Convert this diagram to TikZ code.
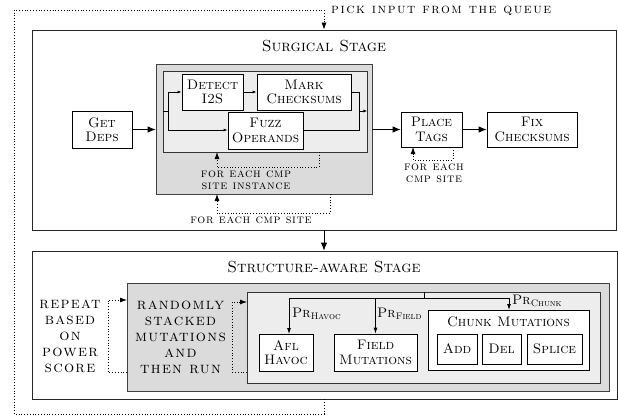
\documentclass[tikz,border=0pt]{standalone}
\usetikzlibrary{arrows.meta}
\font\lmscPick="[lmromancaps10-regular.otf]:letterspace=11" at 14pt
\font\lmscLoop="[lmromancaps10-regular.otf]:letterspace=5" at 12.5pt
\font\lmscBig="[lmromancaps10-regular.otf]:letterspace=8" at 16pt
\newcommand\fsBox{\fontsize{13.8}{14.5}\selectfont\scshape}
\newcommand\fsTitle{\fontsize{16}{18}\selectfont\scshape}
\newcommand\fsSub{\fontsize{9.5}{10}\selectfont\scshape}
\tikzset{
  stage/.style={draw=black!85, line width=0.8pt},
  darkbox/.style={draw=black!75, fill=gray!28, line width=0.8pt},
  lightbox/.style={draw=black!80, fill=gray!14, line width=0.8pt},
  box/.style={draw, fill=white, line width=0.8pt, align=center, inner sep=0pt, font=\fsBox},
  txt/.style={inner sep=0pt, align=center},
  looptxt/.style={inner sep=0pt, font=\lmscLoop},
  bigtxt/.style={inner sep=0pt, align=center, font={\lmscBig\baselineskip=16pt}},
  bigarr/.style={-{Latex[length=8pt,width=6.5pt]}, line width=0.8pt},
  smallarr/.style={-{Latex[length=4pt,width=3pt]}, line width=0.8pt},
  medarr/.style={-{Latex[length=6pt,width=4pt]}, line width=0.8pt},
  looparr/.style={dotted, line width=0.8pt, -{Latex[length=7pt,width=5pt]}},
}
\begin{document}
\begin{tikzpicture}[x=1pt, y=-1pt]
\useasboundingbox (0,0) rectangle (618,417);

% ---------- Surgical stage ----------
\node[stage, minimum width=584pt, minimum height=200pt, inner sep=0pt] (surg) at (324,130) {};
\node[txt, font=\fsTitle] (surgt) at (324,46.5) {Surgical Stage};

\node[darkbox, minimum width=216pt, minimum height=130pt, inner sep=0pt] (gray1) at (264,129) {};
\node[lightbox, minimum width=204pt, minimum height=81pt, inner sep=0pt] (inner1) at (265,111.5) {};

\node[box, minimum width=60pt, minimum height=37pt] (getdeps) at (102,129.5) {Get\\Deps};
\node[box, minimum width=61pt, minimum height=36pt] (detect) at (212.5,92) {Detect\\I2S};
\node[box, minimum width=94pt, minimum height=36pt] (mark) at (304,92) {Mark\\Checksums};
\node[box, minimum width=75pt, minimum height=37pt] (fuzz) at (265.5,130.5) {Fuzz\\Operands};
\node[box, minimum width=61pt, minimum height=35pt] (place) at (431.5,129.5) {Place\\Tags};
\node[box, minimum width=90pt, minimum height=35pt] (fix) at (532,129.5) {Fix\\Checksums};

\draw[bigarr] (getdeps.east) -- (getdeps.east -| gray1.west);
\coordinate (in1) at (163,111);
\coordinate (sp1) at (168,111);
\draw[line width=0.8pt] (in1) -- (sp1);
\draw[smallarr] (sp1) |- (detect.west);
\draw[smallarr] (sp1) |- (fuzz.west |- 0,130);
\draw[smallarr] (detect.east) -- (mark.west);
\coordinate (mg) at (359,111);
\draw[line width=0.8pt] (mark.east) -| (359,130) -- (fuzz.east |- 0,130);
\draw[smallarr] (mg) -- (inner1.east |- mg);
\draw[bigarr] (gray1.east |- place.west) -- (place.west);
\draw[bigarr] (place.east) -- (fix.west);

% loops in surgical stage
\draw[looparr] (453,147) -- (453,160) -- (413,160) -- (413,147);
\node[looptxt] (lp1a) at (434,167) {for each};
\node[looptxt] (lp1b) at (434,179) {cmp site};
\draw[looparr] (319,152) -- (319,167) -- (217,167) -- (217,152);
\node[looptxt] (lp2a) at (246,174) {for each cmp};
\node[looptxt] (lp2b) at (246,186) {site instance};
\draw[looparr] (330,194) -- (330,213) -- (217,213) -- (217,194);
\node[looptxt] (lp3) at (251,220) {for each cmp site};

% ---------- Structure-aware stage ----------
\node[stage, minimum width=585pt, minimum height=148pt, inner sep=0pt] (struct) at (324.5,325) {};
\node[txt, font=\fsTitle] (structt) at (324,267.5) {Structure-aware Stage};
\draw[bigarr] (surg.south -| 324,0) -- (struct.north -| 324,0);

\node[darkbox, minimum width=482pt, minimum height=108pt, inner sep=0pt] (gray2) at (368,337) {};
\node[lightbox, minimum width=353pt, minimum height=91pt, inner sep=0pt] (inner2) at (423.5,337.5) {};

\node[bigtxt] (rep) at (70,336.5) {repeat\\based\\on\\power\\score};
\node[bigtxt] (rand) at (180.5,337.5) {randomly\\stacked\\mutations\\and\\then run};
\draw[looparr] (127,372) -- (108,372) -- (108,300) -- (127,300);
\draw[looparr] (247,372) -- (232,372) -- (232,302) -- (247,302);

\node[box, minimum width=54pt, minimum height=37pt] (afl) at (286,352.5) {Afl\\Havoc};
\node[box, minimum width=83pt, minimum height=37pt] (field) at (375.5,352.5) {Field\\Mutations};
\node[draw, fill=white, line width=0.8pt, minimum width=161pt, minimum height=60pt, inner sep=0pt] (chunk) at (508.5,340) {};
\node[txt, font=\fsBox] (chunkt) at (508.5,322) {Chunk Mutations};
\node[box, minimum width=40pt, minimum height=30pt] (add) at (457,349) {Add};
\node[box, minimum width=39pt, minimum height=30pt] (del) at (501.5,349) {Del};
\node[box, minimum width=55pt, minimum height=30pt] (splice) at (554.5,349) {Splice};

\coordinate (br) at (424,298);
\draw[line width=0.8pt] (inner2.north -| br) -- (br);
\draw[line width=0.8pt] (289,298) -- (509,298);
\draw[medarr] (289,298) -- (289,334);
\draw[medarr] (375.5,298) -- (field.north);
\draw[medarr] (509,298) -- (509,310);
\node[txt, anchor=west] (prh) at (292,314) {\fsBox Pr\raisebox{-0.35ex}{\fsSub Havoc}};
\node[txt, anchor=west] (prf) at (377,314) {\fsBox Pr\raisebox{-0.35ex}{\fsSub Field}};
\node[txt, anchor=west] (prc) at (512,301) {\fsBox Pr\raisebox{-0.35ex}{\fsSub Chunk}};

% ---------- queue loop ----------
\node[txt, anchor=west, font=\lmscPick] (pick) at (331,11) {pick input from the queue};
\draw[looparr] (struct.south -| 324,0) -- (324,414) -- (14,414) -- (14,10) -- (324,10) -- (surg.north -| 324,0);
\end{tikzpicture}
\end{document}
